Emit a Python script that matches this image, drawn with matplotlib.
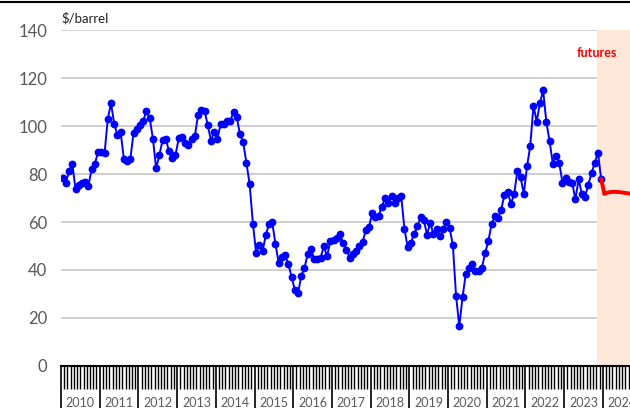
import numpy as np
import pandas as pd
import matplotlib
matplotlib.use('Agg')
import matplotlib.pyplot as plt
import matplotlib.transforms as mtransforms

plt.rcParams['font.family'] = ['Lato', 'DejaVu Sans']

# monthly crude price, $/barrel, Jan 2010 - Dec 2023
price_2010 = [78.3, 76.4, 81.2, 84.3, 73.7, 75.3, 76.3, 76.6, 75.2, 81.9, 84.3, 89.2]
price_2011 = [89.2, 88.6, 102.9, 109.5, 100.9, 96.3, 97.3, 86.3, 85.5, 86.3, 97.2, 98.6]
price_2012 = [100.3, 102.2, 106.2, 103.3, 94.7, 82.3, 87.9, 94.1, 94.5, 89.5, 86.5, 87.9]
price_2013 = [94.8, 95.3, 92.9, 92.0, 94.5, 95.8, 104.7, 106.6, 106.3, 100.5, 93.9, 97.6]
price_2014 = [94.6, 100.8, 100.8, 102.1, 102.2, 105.8, 103.6, 96.5, 93.2, 84.4, 75.8, 59.3]
price_2015 = [47.2, 50.6, 47.8, 54.5, 59.3, 59.8, 50.9, 42.9, 45.5, 46.2, 42.4, 37.2]
price_2016 = [31.7, 30.3, 37.6, 40.8, 46.7, 48.8, 44.7, 44.7, 45.2, 49.8, 45.7, 52.0]
price_2017 = [52.5, 53.5, 54.8, 51.2, 48.5, 45.2, 46.6, 48.0, 49.8, 51.6, 56.6, 57.9]
price_2018 = [63.7, 62.2, 62.7, 66.3, 70.0, 67.9, 71.0, 68.1, 70.2, 70.8, 57.0, 49.5]
price_2019 = [51.4, 55.0, 58.2, 61.9, 60.8, 54.7, 59.6, 54.8, 57.0, 54.0, 57.0, 59.9]
price_2020 = [57.5, 50.5, 29.2, 16.6, 28.6, 38.3, 40.7, 42.3, 39.6, 39.4, 40.9, 47.0]
price_2021 = [52.0, 59.0, 62.3, 61.7, 65.2, 71.4, 72.5, 67.7, 71.5, 81.2, 78.7, 71.7]
price_2022 = [83.2, 91.6, 108.5, 101.8, 109.6, 114.8, 101.6, 93.7, 84.3, 87.6, 84.4, 76.4]
price_2023 = [78.4, 76.8, 76.4, 69.4, 77.8, 71.7, 70.6, 75.6, 80.3, 84.7, 88.9, 77.8]

# futures curve, Dec 2023 onwards
futures = [77.8, 71.7, 72.3, 72.5, 72.6, 72.5, 72.4, 72.2, 72.0, 71.8]

years = list(range(2010, 2025))

spot = (price_2010 + price_2011 + price_2012 + price_2013 + price_2014 + price_2015
        + price_2016 + price_2017 + price_2018 + price_2019 + price_2020 + price_2021
        + price_2022 + price_2023)
spot_x = np.arange(len(spot))
fut_x = np.arange(len(spot) - 1, len(spot) - 1 + len(futures))

fig = plt.figure(figsize=(6.3, 4.08), dpi=100)
ax = fig.add_axes([61 / 630, 42 / 408, 569 / 630, 336 / 408])

x_right = 569 / 3.225 - 0.5
ax.set_xlim(-0.5, x_right)
ax.set_ylim(0, 140)

# shaded forecast period
ax.axvspan(165.6, x_right, color='#fde8da', zorder=2, lw=0)

ax.set_yticks(np.arange(0, 141, 20))
ax.yaxis.grid(True, color='#cccccc', lw=1.3, zorder=1)
ax.set_axisbelow(True)

ax.plot(spot_x, spot, color='#0000ff', lw=1.4, marker='o', ms=4.6, zorder=4)
ax.plot(fut_x, futures, color='#ff0000', lw=2.8, zorder=5, solid_joinstyle='round')

ax.text(165.6, 130.5, 'futures', color='#ff0000', fontsize=9, fontweight='bold',
        ha='center', va='center', zorder=6)
ax.text(0, 1.015, '$/barrel', transform=ax.transAxes, fontsize=9.5, color='#222222',
        ha='left', va='bottom')

for side in ['left', 'right', 'top']:
    ax.spines[side].set_visible(False)
ax.spines['bottom'].set_color('black')
ax.spines['bottom'].set_linewidth(1.5)

ax.tick_params(axis='y', length=0, pad=10, labelsize=12, labelcolor='#595959')

# year boundaries (long ticks) and month ticks
bounds = [(y - 2010) * 12 - 0.5 for y in years]
ax.set_xticks(bounds)
ax.set_xticklabels([])
ax.set_xticks(np.arange(-0.5, x_right, 1), minor=True)
ax.tick_params(axis='x', which='major', length=32, width=1.2, color='black')
ax.tick_params(axis='x', which='minor', length=16.5, width=1.0, color='black')

trans = mtransforms.blended_transform_factory(ax.transData, fig.transFigure)
for y in years:
    xm = (y - 2010) * 12 + 5.5
    ax.text(xm, 5 / 408, str(y), transform=trans, fontsize=9, color='#595959',
            ha='center', va='center', clip_on=False)

# rule across the top
fig.add_artist(plt.Line2D([0, 1], [0.996, 0.996], color='black', lw=1.5,
                          transform=fig.transFigure))

fig.savefig('out.png', dpi=100)
